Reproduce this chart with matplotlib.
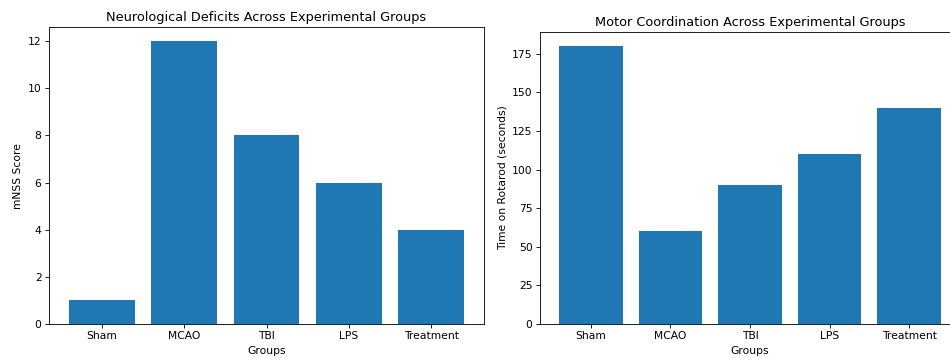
import matplotlib
matplotlib.use('Agg')
import matplotlib.pyplot as plt

groups = ['Sham', 'MCAO', 'TBI', 'LPS', 'Treatment']
mnss = [1, 12, 8, 6, 4]
rotarod = [180, 60, 90, 110, 140]

W, H = 950.0, 358.0
DPI = 77
fig = plt.figure(figsize=(W / DPI, H / DPI), dpi=DPI)

ax1 = fig.add_axes([49 / W, 1 - 324 / H, (484 - 49) / W, (324 - 27) / H])
ax1.bar(groups, mnss, color='#1f77b4')
ax1.set_title('Neurological Deficits Across Experimental Groups')
ax1.set_xlabel('Groups')
ax1.set_ylabel('mNSS Score')

ax2 = fig.add_axes([540 / W, 1 - 324 / H, (960 - 540) / W, (324 - 32) / H])
ax2.bar(groups, rotarod, color='#1f77b4')
ax2.set_title('Motor Coordination Across Experimental Groups')
ax2.set_xlabel('Groups')
ax2.set_ylabel('Time on Rotarod (seconds)')

fig.savefig('out.png', dpi=DPI)
